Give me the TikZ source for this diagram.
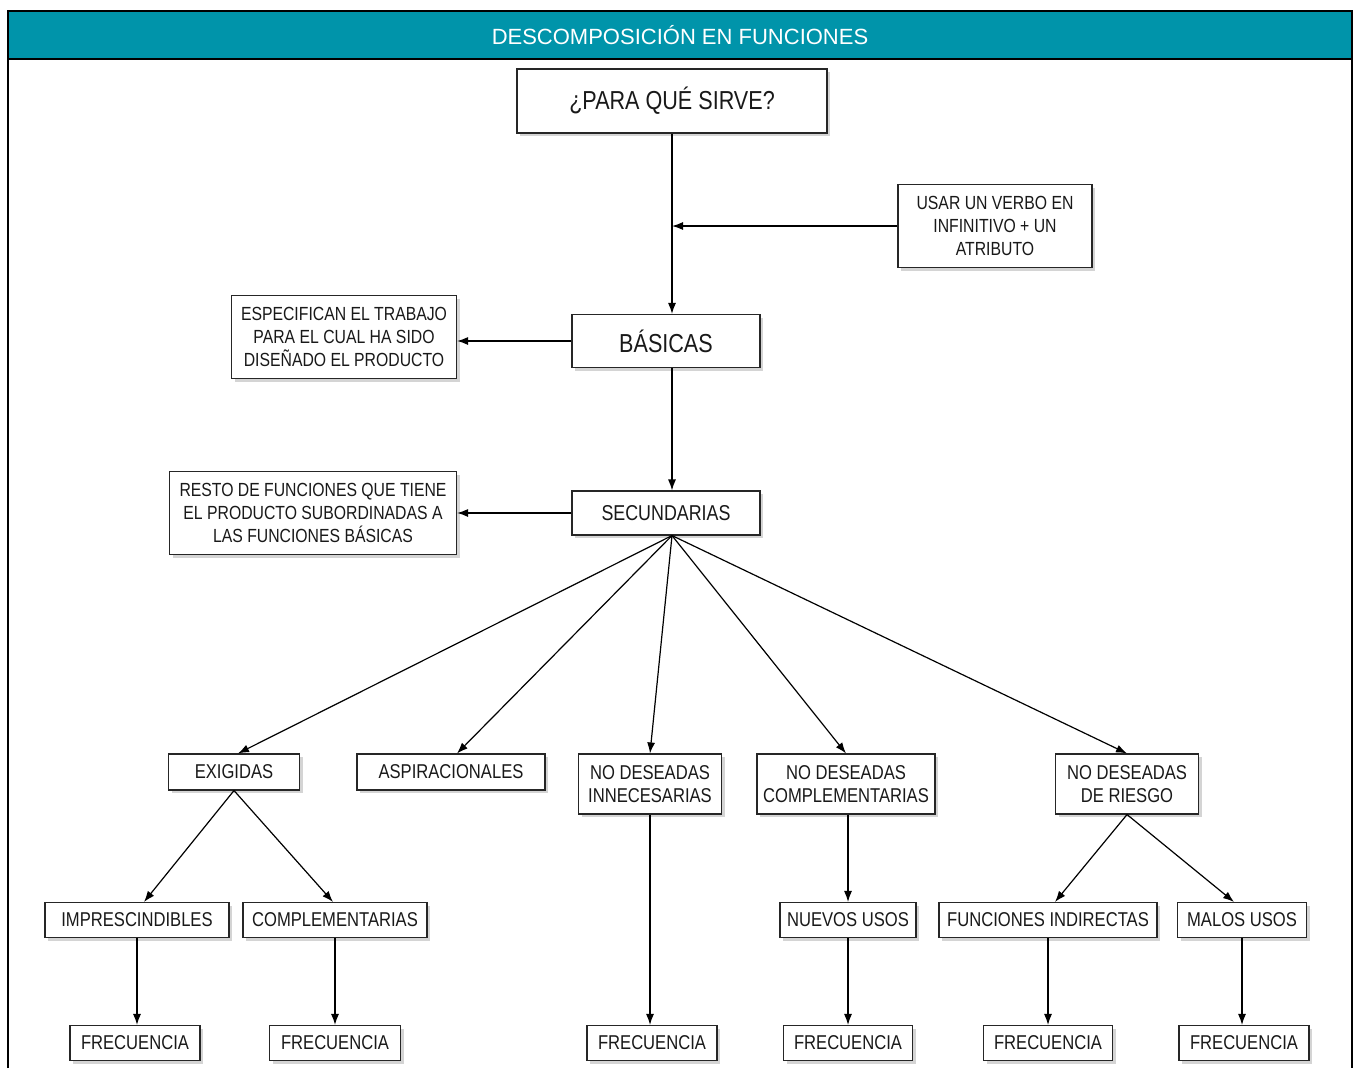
\documentclass[tikz,border=0pt]{standalone}
\usepackage{fontspec}
\setmainfont{Liberation Sans}[FakeStretch=0.83]
\newfontfamily\headfont{Liberation Sans}
\usetikzlibrary{arrows.meta,shadows}
\definecolor{headteal}{RGB}{0,148,170}
\definecolor{shadowgray}{RGB}{212,212,212}
\begin{document}
\begin{tikzpicture}[x=1pt,y=-1pt,
  box/.style={draw=black!85, line width=1.1pt, fill=white, inner sep=0pt,
    align=center, text=black!90, font=\fontsize{20}{23.5}\selectfont,
    drop shadow={shadow xshift=3pt, shadow yshift=-3pt, fill=shadowgray, opacity=1}},
  notebox/.style={box, font=\fontsize{19}{23}\selectfont},
  bigbox/.style={box, font=\fontsize{26}{30}\selectfont},
  link/.style={line width=1.2pt, -{Latex[length=11pt,width=8pt]}}]
\useasboundingbox (0,0) rectangle (1357,1068);

% frame and title band
\fill[headteal] (8,11) rectangle (1352,59);
\draw[line width=2.5pt] (8,1068) -- (8,11) -- (1352,11) -- (1352,1068);
\draw[line width=2pt] (8,59) -- (1352,59);
\node[text=white, font=\headfont\fontsize{22}{26}\selectfont] (title) at (680,35) {DESCOMPOSICIÓN EN FUNCIONES};

% main column
\node[bigbox, minimum width=310pt, minimum height=64pt] (q) at (672,101) {¿PARA QUÉ SIRVE?};
\node[notebox, minimum width=194pt, minimum height=83pt] (usar) at (995,226) {USAR UN VERBO EN\\INFINITIVO + UN\\ATRIBUTO};
\node[bigbox, minimum width=188pt, minimum height=53pt] (bas) at (666,341) {BÁSICAS};
\node[notebox, minimum width=225pt, minimum height=83pt] (esp) at (344,337) {ESPECIFICAN EL TRABAJO\\PARA EL CUAL HA SIDO\\DISEÑADO EL PRODUCTO};
\node[box, font=\fontsize{21.5}{25}\selectfont, minimum width=188pt, minimum height=44pt] (sec) at (666,513) {SECUNDARIAS};
\node[notebox, minimum width=287pt, minimum height=83pt] (resto) at (313,513) {RESTO DE FUNCIONES QUE TIENE\\EL PRODUCTO SUBORDINADAS A\\LAS FUNCIONES BÁSICAS};

% second level
\node[box, minimum width=131pt, minimum height=36pt] (exi) at (234,772) {EXIGIDAS};
\node[box, minimum width=188pt, minimum height=36pt] (asp) at (451,772) {ASPIRACIONALES};
\node[box, minimum width=143pt, minimum height=60pt] (inn) at (650,784) {NO DESEADAS\\INNECESARIAS};
\node[box, minimum width=178pt, minimum height=60pt] (ndc) at (846,784) {NO DESEADAS\\COMPLEMENTARIAS};
\node[box, minimum width=143pt, minimum height=60pt] (rie) at (1127,784) {NO DESEADAS\\DE RIESGO};

% third level
\node[box, minimum width=184pt, minimum height=35pt] (imp) at (137,920) {IMPRESCINDIBLES};
\node[box, minimum width=184pt, minimum height=35pt] (com) at (335,920) {COMPLEMENTARIAS};
\node[box, minimum width=136pt, minimum height=35pt] (nue) at (848,920) {NUEVOS USOS};
\node[box, minimum width=218pt, minimum height=35pt] (ind) at (1048,920) {FUNCIONES INDIRECTAS};
\node[box, minimum width=129pt, minimum height=35pt] (mal) at (1242,920) {MALOS USOS};

% frequency boxes
\node[box, minimum width=130pt, minimum height=35pt] (f1) at (135,1043) {FRECUENCIA};
\node[box, minimum width=131pt, minimum height=35pt] (f2) at (335,1043) {FRECUENCIA};
\node[box, minimum width=130pt, minimum height=35pt] (f3) at (652,1043) {FRECUENCIA};
\node[box, minimum width=129pt, minimum height=35pt] (f4) at (848,1043) {FRECUENCIA};
\node[box, minimum width=129pt, minimum height=35pt] (f5) at (1048,1043) {FRECUENCIA};
\node[box, minimum width=130pt, minimum height=35pt] (f6) at (1244,1043) {FRECUENCIA};

% connectors
\coordinate (join) at (q.south |- usar.west);
\coordinate (hub) at (q.south |- sec.south);
\draw[link] (q.south) -- (q.south |- bas.north);
\draw[link] (usar.west) -- (join);
\draw[link] (bas.west) -- (bas.west -| esp.east);
\draw[link] (q.south |- bas.south) -- (q.south |- sec.north);
\draw[link] (sec.west) -- (sec.west -| resto.east);

\draw[link] (hub) -- ([xshift=4pt]exi.north);
\draw[link] (hub) -- ([xshift=6pt]asp.north);
\draw[link] (hub) -- (inn.north);
\draw[link] (hub) -- (ndc.north);
\draw[link] (hub) -- (rie.north);

\draw[link] (exi.south) -- ([xshift=7pt]imp.north);
\draw[link] (exi.south) -- ([xshift=-2pt]com.north);
\draw[link] (rie.south) -- ([xshift=7pt]ind.north);
\draw[link] (rie.south) -- ([xshift=-8pt]mal.north);

\draw[link] (inn.south) -- (inn.south |- f3.north);
\draw[link] (ndc.south -| nue.north) -- (nue.north);
\draw[link] (nue.south) -- (f4.north);
\draw[link] (imp.south) -- (imp.south |- f1.north);
\draw[link] (com.south) -- (f2.north);
\draw[link] (ind.south) -- (f5.north);
\draw[link] (mal.south) -- (mal.south |- f6.north);
\end{tikzpicture}
\end{document}
